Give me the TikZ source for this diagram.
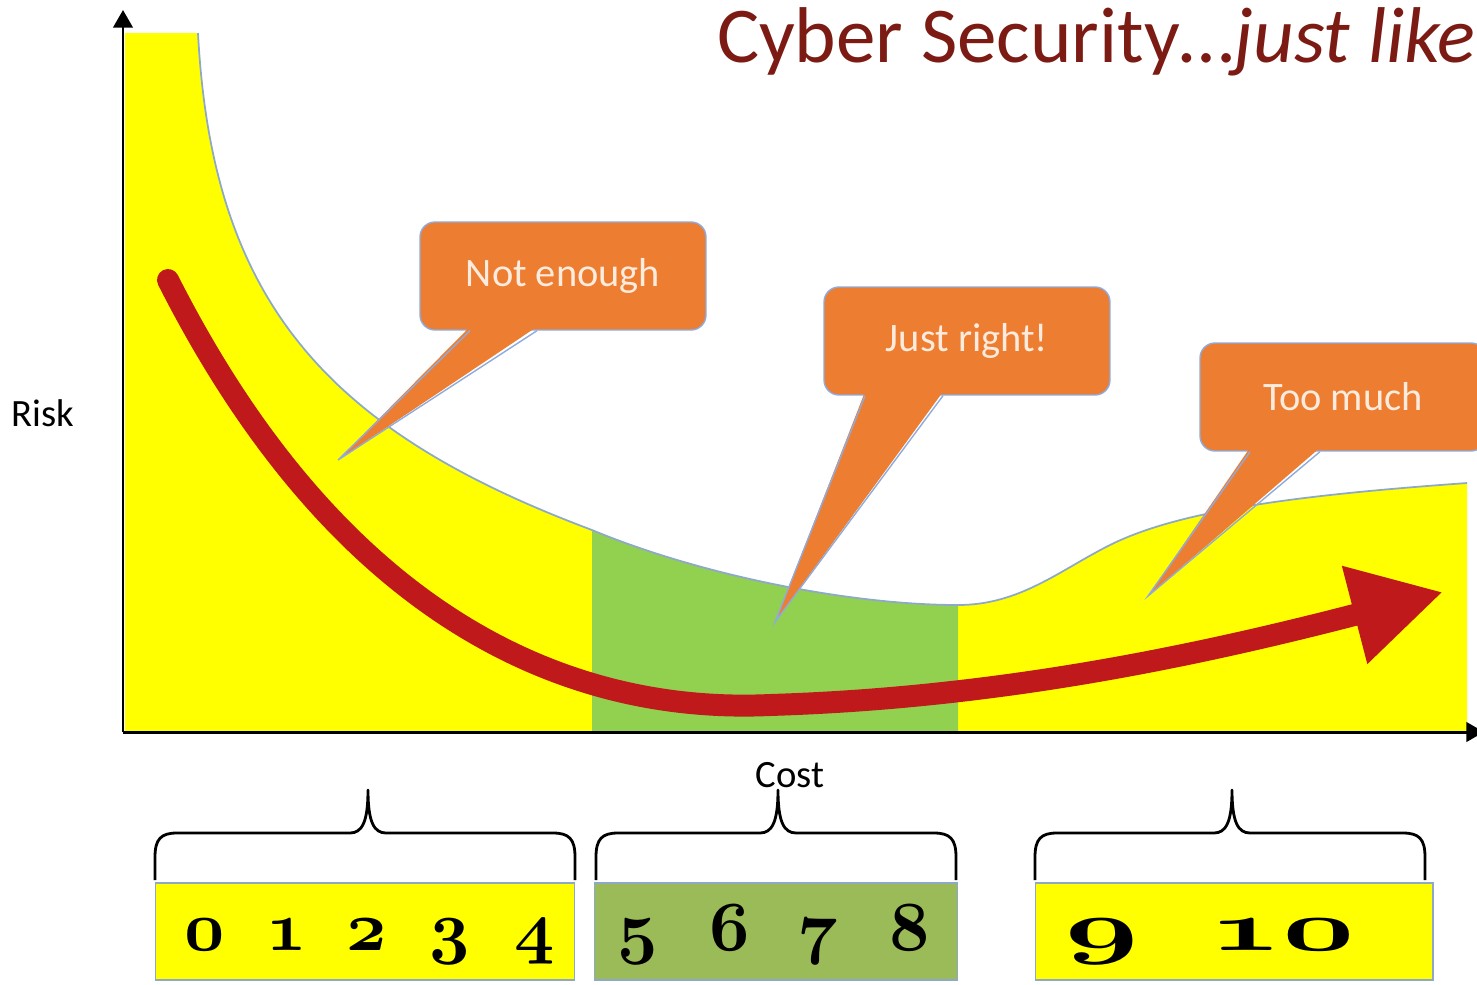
\documentclass[tikz,border=0pt]{standalone}
\usepackage{fix-cm}
\usepackage{fontspec}
\setmainfont{Carlito}
\usetikzlibrary{arrows.meta,calc}

\definecolor{riskyellow}{HTML}{FFFF00}
\definecolor{riskgreen}{HTML}{92D050}
\definecolor{boxgreen}{HTML}{9BBB59}
\definecolor{curveline}{HTML}{8EA9C8}
\definecolor{bubble}{HTML}{ED7D31}
\definecolor{bubbletext}{HTML}{FDEBDD}
\definecolor{bubbleline}{HTML}{8FAADC}
\definecolor{arrowred}{HTML}{C0191B}
\definecolor{titlered}{HTML}{7B1B13}

% risk curve, pixel units
\newcommand{\riskcurve}{(198,33) .. controls (212,300) and (325,430) .. (592,530)
  .. controls (700,575) and (850,605) .. (958,605)
  .. controls (1020,605) and (1060,570) .. (1110,545)
  .. controls (1180,510) and (1300,495) .. (1467,483)}
% brace: left end, cusp, right end
\newcommand{\costbrace}[3]{%
  \draw[bracestroke] (#1,880) -- (#1,857) .. controls (#1,839) and (#1+6,833) .. (#1+22,833)
    -- (#2-18,833) .. controls (#2-6,833) and (#2,822) .. (#2,790)
    .. controls (#2,822) and (#2+6,833) .. (#2+18,833)
    -- (#3-22,833) .. controls (#3-6,833) and (#3,839) .. (#3,857) -- (#3,880);}
% old style figure
\newcommand{\osnum}[1]{{\boldmath$\mathnormal{#1}$}}

\begin{document}
\begin{tikzpicture}[x=0.02cm,y=-0.02cm]

      \tikzset{bubblebox/.style={draw=bubbleline, line width=0.8pt, fill=bubble, rounded corners=8.5pt,
                 minimum width=5.72cm, minimum height=2.16cm, text=bubbletext, font=\fontsize{23}{26}\selectfont},
               tailedge/.style={draw=bubbleline, line width=0.8pt},
               axis/.style={line width=1.7pt, -{Triangle[length=10pt,width=11pt]}},
               bracestroke/.style={line width=1.6pt, line join=round},
               numbox/.style={draw=curveline, line width=0.6pt, inner sep=0pt, minimum height=1.94cm},
               figure/.style={anchor=base, inner sep=0pt, font=\fontsize{40}{44}\selectfont},
               axislabel/.style={font=\fontsize{22}{26}\selectfont}}
      \useasboundingbox (0,0) rectangle (1477,984);
%% Area under the curve
      	\fill[riskyellow] (125,732) -- (125,33) -- \riskcurve -- (1467,732) -- cycle;
      	\begin{scope}
      	  \clip (592,0) rectangle (958,732);
      	  \fill[riskgreen] (125,732) -- (125,33) -- \riskcurve -- (1467,732) -- cycle;
      	\end{scope}
      	\draw[curveline, line width=1pt] \riskcurve;
%% Axes
      	\coordinate (o) at (123,732);
      	\coordinate (ytop) at (123,10);
      	\coordinate (xend) at (1484,732);
      	\draw[axis] (o) -- (ytop);
      	\draw[axis] (o) -- (xend);
      	\node[axislabel] (risk) at (43,413) {Risk};
      	\node[axislabel] (cost) at (790,775) {Cost};
%% Callouts
      	\node[bubblebox] (notenough) at (563,276) {Not enough};
      	\node[bubblebox] (justright) at (967,341) {Just right!};
      	\node[bubblebox] (toomuch) at (1343,397) {Too much};
      	\coordinate (netip) at (338,460);
      	\coordinate (jrtip) at (775,622);
      	\coordinate (tmtip) at (1148,596);
      	\fill[bubble] ($(notenough.south)+(-93,-4)$) -- (netip) -- ($(notenough.south)+(-26,-4)$) -- cycle;
      	\draw[tailedge] ($(notenough.south)+(-93,0)$) -- (netip) -- ($(notenough.south)+(-26,0)$);
      	\fill[bubble] ($(justright.south)+(-102,-4)$) -- (jrtip) -- ($(justright.south)+(-24,-4)$) -- cycle;
      	\draw[tailedge] ($(justright.south)+(-102,0)$) -- (jrtip) -- ($(justright.south)+(-24,0)$);
      	\fill[bubble] ($(toomuch.south)+(-93,-4)$) -- (tmtip) -- ($(toomuch.south)+(-23,-4)$) -- cycle;
      	\draw[tailedge] ($(toomuch.south)+(-93,0)$) -- (tmtip) -- ($(toomuch.south)+(-23,0)$);
%% Red arrow
      	\coordinate (rstart) at (168,280);
      	\coordinate (rlow) at (770,705);
      	\coordinate (rend) at (1443,592);
      	\draw[arrowred, line width=12.5pt, line cap=round, -{Triangle[length=52pt,width=54pt]}]
      	  (rstart) .. controls (330,600) and (550,715) .. (rlow) .. controls (1000,698) and (1200,655) .. (rend);
%% Title
      	\node[anchor=base east, inner sep=0pt, text=titlered, font=\fontsize{45}{50}\selectfont] (title) at (1476,62)
      	  {Cyber Security…\textit{just like}};
%% Braces and scale boxes
      	\costbrace{155}{368}{575}
      	\costbrace{596}{778}{956}
      	\costbrace{1035}{1232}{1425}
      	\node[numbox, fill=riskyellow, minimum width=8.4cm] (low) at (365,931.5) {};
      	\node[numbox, fill=boxgreen, minimum width=7.26cm] (mid) at (776,931.5) {};
      	\node[numbox, fill=riskyellow, minimum width=7.96cm] (high) at (1234,931.5) {};
      	\foreach \n/\px in {0/205,1/287,2/367,3/450,4/535,5/638,6/730,7/818,8/910}
      	  \node[figure] (fig\n) at (\px,950) {\osnum{\n}};
      	\node[figure] (fig9) at (1102,950) {\scalebox{1.85}[1]{\osnum{9}}};
      	\node[figure] (fig10) at (1282,950) {\scalebox{1.8}[1]{\osnum{10}}};

	\end{tikzpicture}
\end{document}
